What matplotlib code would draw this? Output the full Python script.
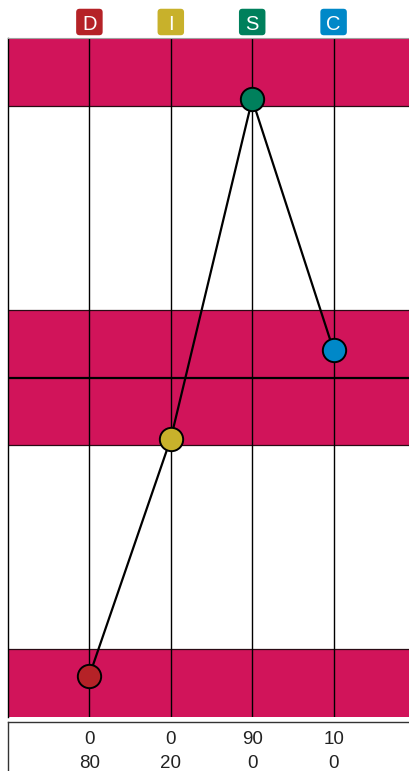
import matplotlib
matplotlib.use("Agg")
import matplotlib.pyplot as plt
from matplotlib.patches import FancyBboxPatch
from matplotlib.transforms import IdentityTransform

plt.rcParams['font.family'] = ['Liberation Sans', 'DejaVu Sans']

# ---- data ----
styles = ['D', 'I', 'S', 'C']
style_colors = ['#B52227', '#C8B12B', '#00805C', '#0088C8']
graph_values = [-87.8, -18.0, 81.9, 8.0]
row_most = [0, 0, 90, 10]
row_least = [80, 20, 0, 0]
band_ranges = [(80, 100), (0, 20), (-20, 0), (-100, -80)]

W, H = 410, 771
fig = plt.figure(figsize=(W / 100, H / 100), dpi=100)

# main axes: pixel left 8, top 38, bottom 717, spacing 81.4 px per unit
ax_left_px = 8
unit_px = 81.4
ax_w_px = unit_px * 5
ax_top_px, ax_bot_px = 38, 717
ax = fig.add_axes([ax_left_px / W, (H - ax_bot_px) / H, ax_w_px / W, (ax_bot_px - ax_top_px) / H])
ax.set_xlim(0, 5)
ax.set_ylim(-100, 100)

pink = '#D1145A'
for lo, hi in band_ranges:
    ax.axhspan(lo, hi, color=pink, lw=0, zorder=0)
for lo, hi in band_ranges:
    for v in (lo, hi):
        if v not in (100, -100, 0):
            ax.axhline(v, color='#2a0a14', lw=0.9, zorder=1)
ax.axhline(0, color='black', lw=1.6, zorder=1)

xs = list(range(1, len(styles) + 1))
for x in xs:
    ax.axvline(x, color='black', lw=1.0, zorder=1)

ax.plot(xs, graph_values, color='black', lw=1.6, zorder=2)
for x, v, c in zip(xs, graph_values, style_colors):
    ax.plot([x], [v], marker='o', ms=16.8, mfc=c, mec='black', mew=1.4, zorder=3)

ax.set_xticks([])
ax.set_yticks([])
ax.spines['left'].set_color('black')
ax.spines['left'].set_linewidth(1.0)
ax.spines['top'].set_color('#a0a0a0')
ax.spines['top'].set_linewidth(0.8)
ax.spines['right'].set_visible(False)
ax.spines['bottom'].set_visible(False)

# header boxes
fig.canvas.draw()
box_px = 26.5
hdr_cy = H - 22
for x, lab, c in zip(xs, styles, style_colors):
    cx = ax.transData.transform((x, 0))[0]
    p = FancyBboxPatch((cx - box_px / 2, hdr_cy - box_px / 2), box_px, box_px,
                       boxstyle='round,pad=0,rounding_size=3.5', transform=IdentityTransform(),
                       facecolor=c, edgecolor='none')
    fig.patches.append(p)
    fig.text(cx / W, hdr_cy / H, lab, color='white', fontsize=14.5,
             ha='center', va='center_baseline')

# bottom table
tbl_top = 722
fig.add_artist(plt.Line2D([ax_left_px / W, 1.0], [(H - tbl_top) / H] * 2,
                          transform=fig.transFigure, color='#333333', lw=1.0))
fig.add_artist(plt.Line2D([ax_left_px / W] * 2, [(H - tbl_top) / H, 0],
                          transform=fig.transFigure, color='#333333', lw=1.0))
for x, a, b in zip(xs, row_most, row_least):
    cx = ax.transData.transform((x, 0))[0]
    fig.text(cx / W, (H - 739) / H, str(a), fontsize=13.5, ha='center', va='center', color='#222222')
    fig.text(cx / W, (H - 764) / H, str(b), fontsize=13.5, ha='center', va='center', color='#222222')

fig.savefig('out.png', dpi=100)
